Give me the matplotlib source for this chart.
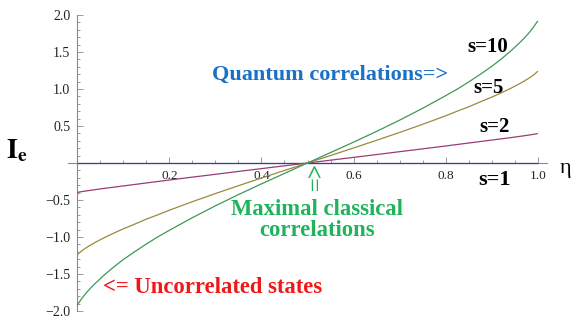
import matplotlib
matplotlib.use("Agg")
import matplotlib.pyplot as plt
from matplotlib.ticker import MultipleLocator, FixedLocator

plt.rcParams['mathtext.fontset'] = 'stix'
SERIF = ['Liberation Serif', 'DejaVu Serif']

# Data
eta = [0.0, 0.005, 0.01, 0.02, 0.03, 0.04, 0.06, 0.08, 0.10, 0.125, 0.15, 0.175, 0.20,
       0.25, 0.30, 0.35, 0.40, 0.45, 0.50, 0.55, 0.60, 0.65, 0.70, 0.75,
       0.80, 0.825, 0.85, 0.875, 0.90, 0.92, 0.94, 0.96, 0.97, 0.98, 0.99, 0.995, 1.0]
ie_s1 = [0.0] * len(eta)
ie_s2 = [-0.398, -0.392, -0.387, -0.377, -0.368, -0.359, -0.342, -0.326, -0.310, -0.290, -0.270, -0.250, -0.230,
         -0.191, -0.153, -0.114, -0.076, -0.038, 0.0, 0.038, 0.076, 0.114, 0.153, 0.191,
         0.230, 0.250, 0.270, 0.290, 0.310, 0.326, 0.342, 0.359, 0.368, 0.377, 0.387, 0.392, 0.398]
ie_s5 = [-1.241, -1.211, -1.186, -1.143, -1.105, -1.070, -1.005, -0.946, -0.890, -0.826, -0.759, -0.700, -0.638,
         -0.523, -0.413, -0.307, -0.203, -0.101, 0.0, 0.101, 0.203, 0.307, 0.413, 0.523,
         0.638, 0.700, 0.759, 0.826, 0.890, 0.946, 1.005, 1.070, 1.105, 1.143, 1.186, 1.211, 1.241]
ie_s10 = [-1.920, -1.875, -1.830, -1.752, -1.684, -1.622, -1.506, -1.402, -1.305, -1.198, -1.095, -0.998, -0.910,
          -0.739, -0.579, -0.427, -0.282, -0.141, 0.0, 0.141, 0.282, 0.427, 0.579, 0.739,
          0.910, 0.998, 1.095, 1.198, 1.305, 1.402, 1.506, 1.622, 1.684, 1.752, 1.830, 1.875, 1.920]
x_ticks = [0.2, 0.4, 0.6, 0.8, 1.0]
x_ticklabels = ['0.2', '0.4', '0.6', '0.8', '1.0']
y_ticks = [-2.0, -1.5, -1.0, -0.5, 0.5, 1.0, 1.5, 2.0]
y_ticklabels = ['\u22122.0', '\u22121.5', '\u22121.0', '\u22120.5', '0.5', '1.0', '1.5', '2.0']

c1 = (0.24, 0.24, 0.6)
c2 = (0.6, 0.24, 0.4428)
c3 = (0.6, 0.547, 0.24)
c4 = (0.24, 0.6, 0.337)

W, H = 581, 328
fig = plt.figure(figsize=(W / 100, H / 100), dpi=100)
ax = fig.add_axes([68 / W, 1 - 311 / H, 479 / W, 296 / H])
ax.set_xlim(-0.02, 1.02)
ax.set_ylim(-2.0, 2.0)

for ys, c in [(ie_s1, c1), (ie_s2, c2), (ie_s5, c3), (ie_s10, c4)]:
    ax.plot(eta, ys, color=c, lw=0.9, solid_capstyle='butt', solid_joinstyle='round',
            clip_on=False, zorder=3)

for side in ['top', 'right']:
    ax.spines[side].set_visible(False)
ax.spines['left'].set_position(('data', 0))
ax.spines['bottom'].set_position(('data', 0))
for side in ['left', 'bottom']:
    ax.spines[side].set_color('#8a8a8a')
    ax.spines[side].set_linewidth(0.8)

ax.xaxis.set_major_locator(FixedLocator(x_ticks))
ax.set_xticklabels(x_ticklabels)
ax.xaxis.set_minor_locator(MultipleLocator(0.05))
ax.yaxis.set_major_locator(FixedLocator(y_ticks))
ax.set_yticklabels(y_ticklabels)
ax.yaxis.set_minor_locator(MultipleLocator(0.1))
ax.tick_params(axis='both', which='both', direction='in', color='#8a8a8a', width=0.6)
ax.tick_params(axis='both', which='major', length=4)
ax.tick_params(axis='both', which='minor', length=2.2)
ax.tick_params(axis='x', which='major', pad=5, labelsize=9.5, labelcolor='#222222')
ax.tick_params(axis='y', which='major', pad=5, labelsize=10, labelcolor='#222222')
for lab in ax.get_xticklabels() + ax.get_yticklabels():
    lab.set_family(SERIF)

# axis labels
fig.text(17 / W, 1 - 150 / H, r'$\mathbf{I}_{\mathbf{e}}$', fontsize=20, ha='center', va='center')
fig.text(566 / W, 1 - 168 / H, '\u03b7', fontsize=16, ha='center', va='center', family=SERIF)

bold = dict(family=SERIF, fontweight='bold', ha='center', va='center', clip_on=False)
ax.text(0.892, 1.57, 's=10', fontsize=15, color='black', **bold)
ax.text(0.894, 1.02, 's=5', fontsize=15, color='black', **bold)
ax.text(0.907, 0.48, 's=2', fontsize=15, color='black', **bold)
ax.text(0.907, -0.23, 's=1', fontsize=16, color='black', **bold)
ax.text(0.549, 1.19, 'Quantum correlations=>', fontsize=16, color='#1a72c6', **bold)
ax.text(0.506, -0.22, '<=', fontsize=18, color='#1fb35c', rotation=-90, **bold)
ax.text(0.521, -0.77, 'Maximal classical\ncorrelations', fontsize=16.3, color='#1fb35c',
        linespacing=0.95, **bold)
ax.text(0.293, -1.68, '<= Uncorrelated states', fontsize=16.3, color='#f01818', **bold)

fig.savefig('out.png', dpi=100)
